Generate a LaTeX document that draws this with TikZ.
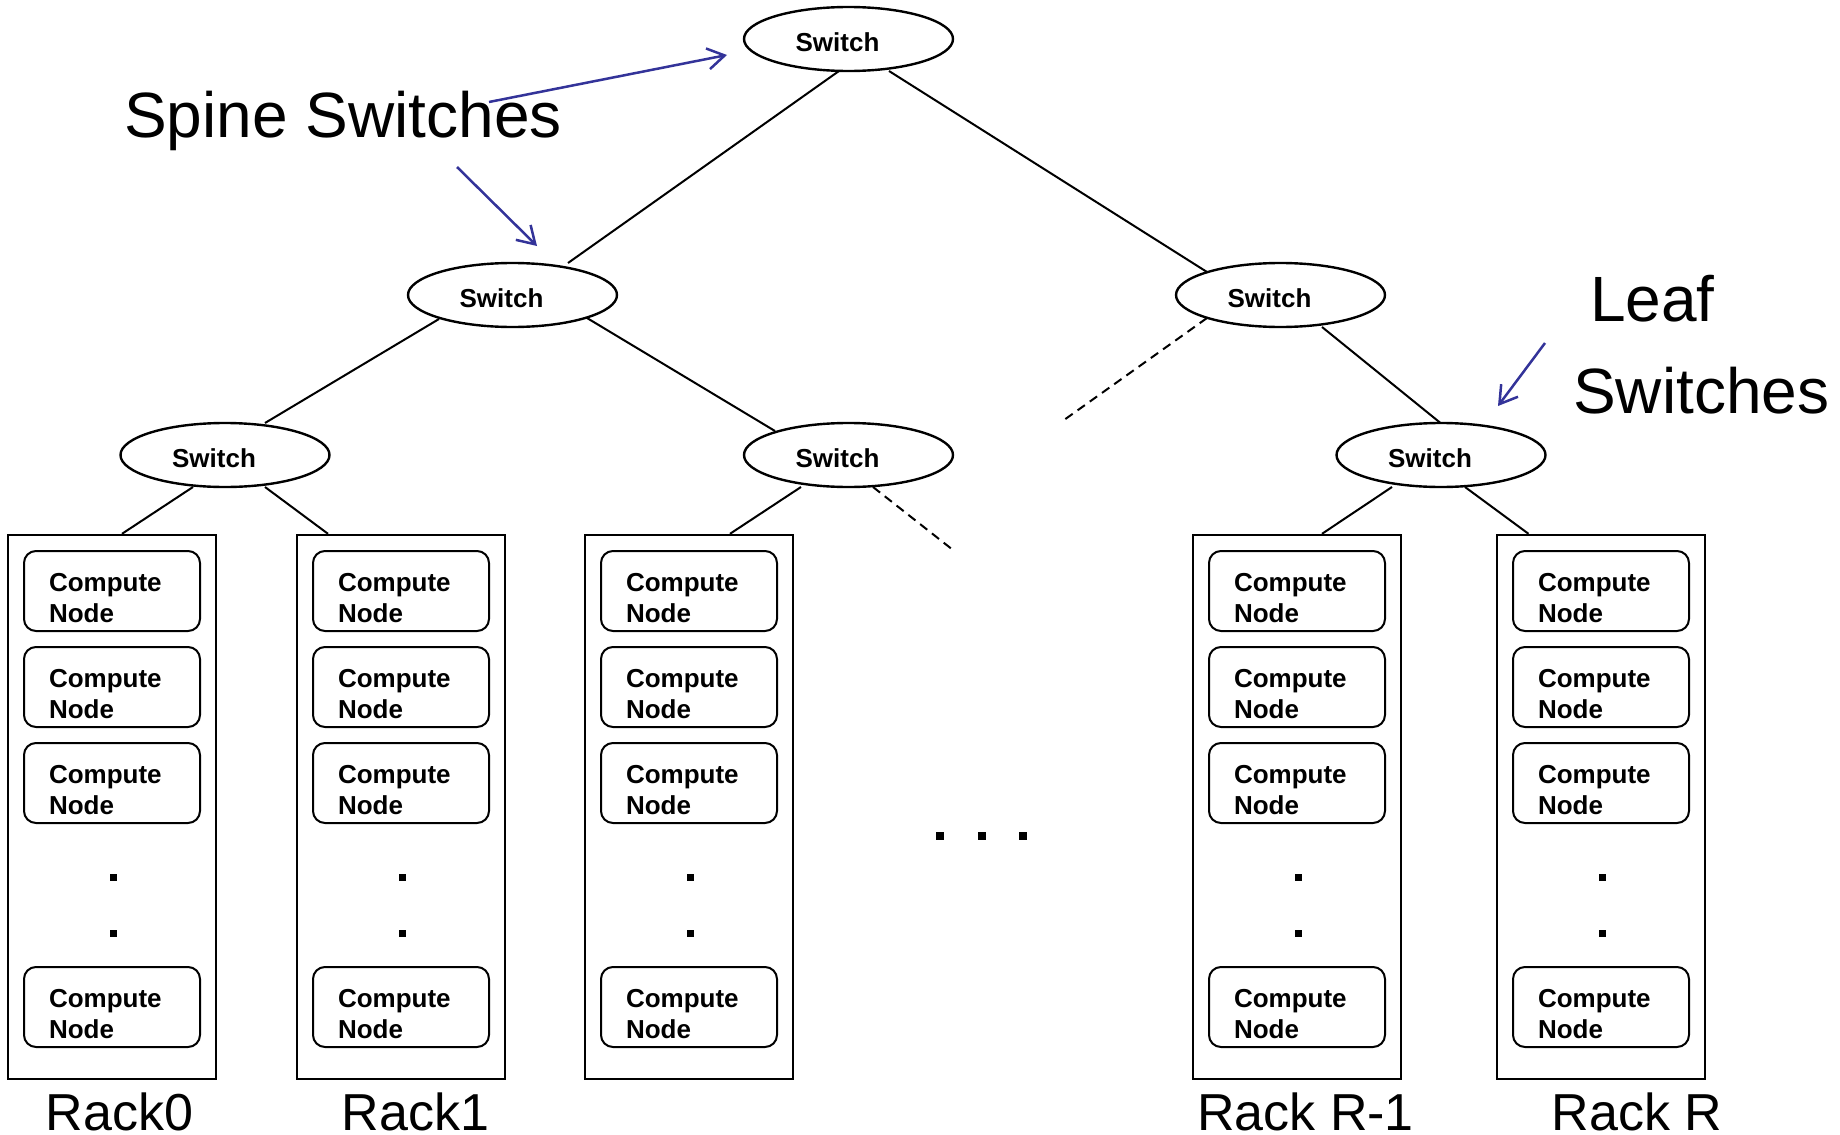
\documentclass[tikz,border=0pt]{standalone}
\usepackage{fontspec}
\setmainfont{Liberation Sans}
\usetikzlibrary{shapes.geometric,arrows.meta,calc}
\definecolor{pointer}{RGB}{51,51,153}
% switch caption, set a little left of the ellipse centre
\newcommand{\swcaption}{\hspace*{-22pt}Switch}

\begin{document}
\begin{tikzpicture}[x=1pt,y=1pt,
  switchnode/.style={ellipse,draw,line width=2.4pt,minimum width=209pt,minimum height=64pt,
    inner sep=0pt,font=\bfseries\fontsize{26}{31}\selectfont,text height=25pt,text depth=0pt},
  rackbox/.style={rectangle,draw,line width=2.4pt,minimum width=208pt,minimum height=544pt,inner sep=0pt},
  cnode/.style={rectangle,draw,rounded corners=12pt,line width=2pt,minimum width=176pt,
    minimum height=80pt,inner xsep=0pt,inner ysep=0pt,text width=126pt,align=left,
    font=\bfseries\fontsize{26}{31}\selectfont,text height=20pt,text depth=20pt},
  link/.style={line width=2pt},
  faint/.style={line width=2pt,dash pattern=on 9pt off 6pt},
  pointer/.style={draw=pointer,line width=2.5pt,-{Straight Barb[length=17pt,width=21pt]}},
  biglabel/.style={font=\fontsize{64}{70}\selectfont,inner sep=0pt,anchor=base west},
  racklabel/.style={font=\fontsize{52}{60}\selectfont,inner sep=0pt,anchor=base,text depth=0pt},
  ellipsis/.style={fill=black}
]
\useasboundingbox (0,0) rectangle (1840,-1135);

% switches
\node[switchnode] (top) at (848.5,-39) {\swcaption};
\node[switchnode] (sa) at (512.5,-295) {\swcaption};
\node[switchnode] (sb) at (1280.5,-295) {\swcaption};
\node[switchnode] (la) at (225,-455) {\swcaption};
\node[switchnode] (lb) at (848.5,-455) {\swcaption};
\node[switchnode] (lc) at (1441,-455) {\swcaption};

% racks with their compute nodes
\foreach \r/\x in {r0/112,r1/401,r2/689,r3/1297,r4/1601}{
  \node[rackbox] (\r) at (\x,-807) {};
  \foreach \k/\y in {1/591,2/687,3/783,4/1007}
    \node[cnode] (\r-c\k) at (\x,-\y) {Compute\\Node};
  \fill[ellipsis] (\x+1.5-3.5,-877-3.5) rectangle ++(7,7);
  \fill[ellipsis] (\x+1.5-3.5,-933-3.5) rectangle ++(7,7);
}

% ellipsis between the racks
\foreach \x in {940,982,1023}
  \fill[ellipsis] (\x-4,-836-4) rectangle ++(8,8);

% rack names
\node[racklabel] (n0) at ($(r0.south)+(7.5,-50)$) {Rack0};
\node[racklabel] (n1) at ($(r1.south)+(14.5,-50)$) {Rack1};
\node[racklabel] (n3) at ($(r3.south)+(8.5,-50)$) {Rack R-1};
\node[racklabel] (n4) at ($(r4.south)+(36,-50)$) {Rack R};

% tree links
\draw[link] ($(top.center)+(-9.5,-32)$) -- ($(sa.center)+(55.5,32)$);
\draw[link] ($(top.center)+(40.5,-32)$) -- ($(sb.center)+(-73.5,23)$);
\draw[link] ($(sa.center)+(-73.5,-24)$) -- ($(la.center)+(40,32)$);
\draw[link] ($(sa.center)+(74.5,-23)$) -- ($(lb.center)+(-73.5,24)$);
\draw[link] ($(sb.center)+(41.5,-32)$) -- ($(lc.center)+(-0.5,32)$);
\draw[link] ($(la.center)+(-32,-32)$) -- ($(r0.north)+(10,0)$);
\draw[link] ($(la.center)+(40,-32)$) -- ($(r1.north)+(-73,0)$);
\draw[link] ($(lb.center)+(-47.5,-32)$) -- ($(r2.north)+(41,0)$);
\draw[link] ($(lc.center)+(-49,-32)$) -- ($(r3.north)+(25,0)$);
\draw[link] ($(lc.center)+(24,-32)$) -- ($(r4.north)+(-72.5,0)$);

% links to the elided part of the tree
\coordinate (gapa) at (1064,-420);
\coordinate (gapb) at (953,-550);
\draw[faint] ($(sb.center)+(-73.5,-23)$) -- (gapa);
\draw[faint] ($(lb.center)+(24.5,-32)$) -- (gapb);

% captions
\node[biglabel] (spine) at (124,-137) {Spine Switches};
\node[biglabel] (leafa) at (1590,-321) {Leaf};
\node[biglabel] (leafb) at (1573,-413) {Switches};

% caption pointers
\coordinate (p1) at (489,-102);
\coordinate (p2) at (457,-167);
\coordinate (p3) at (1545,-343);
\draw[pointer] (p1) -- ($(top.center)+(-121.5,-16)$);
\draw[pointer] (p2) -- ($(sa.center)+(24.5,49)$);
\draw[pointer] (p3) -- ($(lc.center)+(57,49)$);
\end{tikzpicture}
\end{document}
